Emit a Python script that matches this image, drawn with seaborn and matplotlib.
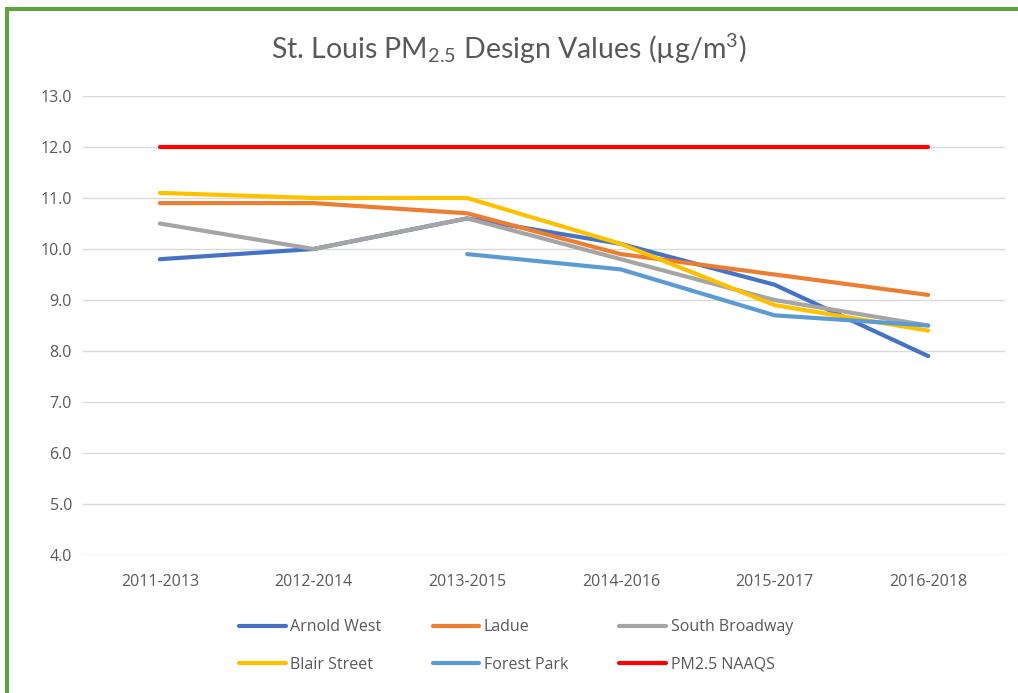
import numpy as np
import pandas as pd
import matplotlib
matplotlib.use("Agg")
import matplotlib.pyplot as plt
from matplotlib.patches import Rectangle
from matplotlib.ticker import FormatStrFormatter
import seaborn as sns

# design value periods and site values (ug/m3)
periods = ["2011-2013", "2012-2014", "2013-2015", "2014-2016", "2015-2017", "2016-2018"]
arnold_west = [9.8, 10.0, 10.6, 10.1, 9.3, 7.9]
ladue = [10.9, 10.9, 10.7, 9.9, 9.5, 9.1]
south_broadway = [10.5, 10.0, 10.6, 9.8, 9.0, 8.5]
blair_street = [11.1, 11.0, 11.0, 10.1, 8.9, 8.4]
forest_park = [np.nan, np.nan, 9.9, 9.6, 8.7, 8.5]
naaqs = [12.0, 12.0, 12.0, 12.0, 12.0, 12.0]

series_names = ["Arnold West", "Ladue", "South Broadway", "Blair Street", "Forest Park", "PM2.5 NAAQS"]
colors = ["#4472C4", "#ED7D31", "#A5A5A5", "#FFC000", "#5B9BD5", "#FF0000"]

df = pd.DataFrame({"Period": periods,
                   "Arnold West": arnold_west,
                   "Ladue": ladue,
                   "South Broadway": south_broadway,
                   "Blair Street": blair_street,
                   "Forest Park": forest_park,
                   "PM2.5 NAAQS": naaqs})
long_df = df.melt(id_vars="Period", var_name="Site", value_name="Value").dropna()

sns.set_style("white")
plt.rcParams["font.family"] = ["Open Sans", "DejaVu Sans"]
plt.rcParams["mathtext.fontset"] = "custom"
plt.rcParams["mathtext.rm"] = "Lato"
plt.rcParams["mathtext.it"] = "Lato"

text_col = "#595959"
fig = plt.figure(figsize=(10.18, 6.93), dpi=100)
ax = fig.add_axes([83 / 1018, 1 - 555 / 693, (1005 - 83) / 1018, (555 - 96) / 693])

sns.lineplot(data=long_df, x="Period", y="Value", hue="Site", hue_order=series_names,
             palette=colors, linewidth=3, sort=False, ax=ax)

ax.set_xlim(-0.5, len(periods) - 0.5)
ax.set_ylim(4, 13)
ax.set_yticks(np.arange(4, 13.5, 1.0))
ax.yaxis.set_major_formatter(FormatStrFormatter("%.1f"))
ax.grid(axis="y", color="#D9D9D9", linewidth=1)
ax.set_axisbelow(True)
for s in ax.spines.values():
    s.set_visible(False)
ax.tick_params(axis="both", length=0, labelsize=11.5, colors=text_col)
ax.tick_params(axis="x", pad=14)
ax.tick_params(axis="y", pad=8)
ax.set_xlabel("")
ax.set_ylabel("")

fig.text(0.5, 1 - 49 / 693, r"St. Louis PM$_{2.5}$ Design Values (µg/m$^{3}$)",
         ha="center", va="center", fontsize=20.5, color=text_col, family=["Lato", "DejaVu Sans"])

# legend, row-wise like the original
handles, labels = ax.get_legend_handles_labels()
ax.get_legend().remove()
hmap = dict(zip(labels, handles))
order = ["Arnold West", "Blair Street", "Ladue", "Forest Park", "South Broadway", "PM2.5 NAAQS"]
leg = fig.legend([hmap[k] for k in order], order, ncol=3, frameon=False,
                 loc="upper left", bbox_to_anchor=(225 / 1018, 1 - 605 / 693),
                 fontsize=11.5, handlelength=2.9, handletextpad=0.3,
                 columnspacing=3.2, labelspacing=1.35)
for t in leg.get_texts():
    t.set_color(text_col)
for h in leg.legend_handles:
    h.set_linewidth(3)

# green frame around the chart
fig.add_artist(Rectangle((7 / 1018, -0.1), 1.2, (693 - 9) / 693 + 0.1,
                         transform=fig.transFigure, fill=False,
                         edgecolor="#5BA53C", linewidth=2.9))

fig.savefig("out.png", dpi=100)
